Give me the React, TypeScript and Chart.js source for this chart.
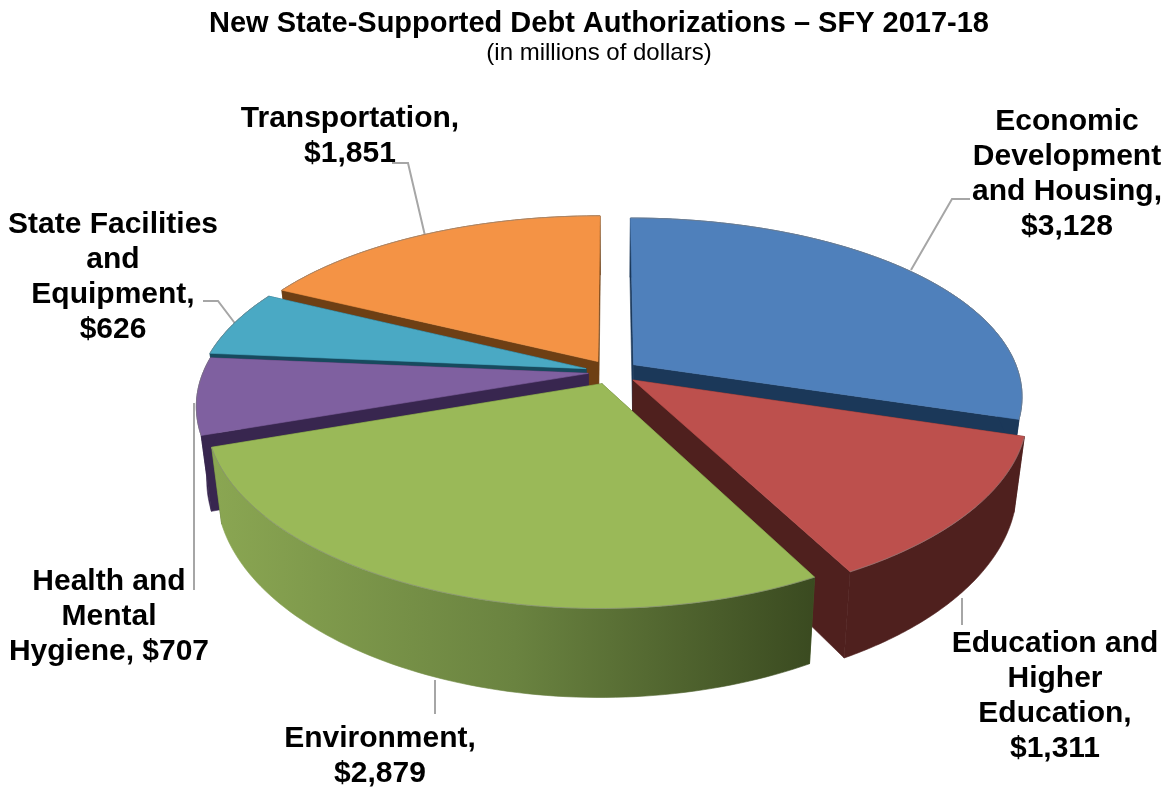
import React, { useEffect, useRef } from "react";
import { Chart, registerables } from "chart.js";

Chart.register(...registerables);

const categories = [
  "Economic Development and Housing",
  "Education and Higher Education",
  "Environment",
  "Health and Mental Hygiene",
  "State Facilities and Equipment",
  "Transportation",
];
const values = [3128, 1311, 2879, 707, 626, 1851];
const topColors = ["#4f80bb", "#bd504d", "#9ab958", "#7f60a0", "#4aa9c4", "#f49345"];
const wallColors = ["#1b3859", "#4f201e", "#4a5f2a", "#38264f", "#174a5e", "#6e3f14"];
const explodes = [0.07, 0.07, 0.07, 0.062, 0.07, 0.07];
const drawOrder = [5, 0, 4, 3, 1, 2];

const titleText = "New State-Supported Debt Authorizations – SFY 2017-18";
const subtitleText = "(in millions of dollars)";

const labelLines = [
  ["Economic", "Development", "and Housing,", "$3,128"],
  ["Education and", "Higher", "Education,", "$1,311"],
  ["Environment,", "$2,879"],
  ["Health and", "Mental", "Hygiene, $707"],
  ["State Facilities", "and", "Equipment,", "$626"],
  ["Transportation,", "$1,851"],
];
const labelAnchors = [
  [1067, 122],
  [1055, 644],
  [380, 739],
  [109, 582],
  [113, 225],
  [350, 119],
];
const leaders = [
  [[911, 270], [952, 199], [970, 199]],
  [[962, 598], [962, 625]],
  [[435, 680], [435, 714]],
  [[194, 590], [194, 403]],
  [[203, 301], [218, 301], [240, 330]],
  [[392, 163], [408, 163], [426, 240]],
];

const FONT = '"Liberation Sans", Arial, sans-serif';
const GEO = { cx: 612, cy: 372, r: 385, k: 0.46, perspY: 0.19, perspX: 0.17, depth: 71, bottomX: 0.975 };

function project(u: number, v: number, low: boolean) {
  const wy = 1 / (1 - GEO.perspY * v);
  const wx = 1 / (1 - GEO.perspX * v);
  const sx = low ? GEO.bottomX : 1;
  return {
    x: GEO.cx + GEO.r * u * wx * sx,
    y: GEO.cy + GEO.r * GEO.k * v * wy + (low ? GEO.depth * wy : 0),
  };
}

const pie3d = {
  id: "pie3d",
  beforeDatasetsDraw(chart: any) {
    const ctx = chart.ctx;
    const arcs = chart.getDatasetMeta(0).data;
    const poly = (pts: { x: number; y: number }[], fill: any) => {
      ctx.beginPath();
      pts.forEach((p, i) => (i ? ctx.lineTo(p.x, p.y) : ctx.moveTo(p.x, p.y)));
      ctx.closePath();
      ctx.fillStyle = fill;
      ctx.fill();
      ctx.strokeStyle = fill;
      ctx.lineWidth = 0.6;
      ctx.stroke();
    };
    ctx.save();
    ctx.strokeStyle = "#a6a6a6";
    ctx.lineWidth = 2;
    leaders.forEach((line) => {
      ctx.beginPath();
      line.forEach((p, i) => (i ? ctx.lineTo(p[0], p[1]) : ctx.moveTo(p[0], p[1])));
      ctx.stroke();
    });
    drawOrder.forEach((i) => {
      const { startAngle, endAngle } = arcs[i];
      const mid = (startAngle + endAngle) / 2;
      const ax = explodes[i] * Math.cos(mid);
      const ay = explodes[i] * Math.sin(mid);
      const steps = 80;
      const rim: [number, number][] = [];
      for (let s = 0; s <= steps; s++) {
        const a = startAngle + ((endAngle - startAngle) * s) / steps;
        rim.push([ax + Math.cos(a), ay + Math.sin(a)]);
      }
      const first = rim[0];
      const last = rim[steps];
      poly([project(ax, ay, false), project(first[0], first[1], false), project(first[0], first[1], true), project(ax, ay, true)], wallColors[i]);
      poly([project(ax, ay, false), project(last[0], last[1], false), project(last[0], last[1], true), project(ax, ay, true)], wallColors[i]);
      let wallFill: any = wallColors[i];
      if (i === 2) {
        const g = ctx.createLinearGradient(215, 0, 815, 0);
        g.addColorStop(0, "#8aa652");
        g.addColorStop(0.5, "#6a8340");
        g.addColorStop(1, "#3a4a20");
        wallFill = g;
      }
      poly(
        [...rim.map((p) => project(p[0], p[1], false)), ...rim.slice().reverse().map((p) => project(p[0], p[1], true))],
        wallFill
      );
      const top = [project(ax, ay, false), ...rim.map((p) => project(p[0], p[1], false))];
      poly(top, topColors[i]);
      ctx.beginPath();
      rim.forEach((p, n) => {
        const q = project(p[0], p[1], false);
        if (n) ctx.lineTo(q.x, q.y);
        else ctx.moveTo(q.x, q.y);
      });
      ctx.strokeStyle = "rgba(130,130,130,0.55)";
      ctx.lineWidth = 1;
      ctx.stroke();
    });
    ctx.restore();
    return false;
  },
  afterDraw(chart: any) {
    const ctx = chart.ctx;
    ctx.save();
    ctx.fillStyle = "#000";
    ctx.font = `bold 30px ${FONT}`;
    ctx.textAlign = "center";
    ctx.textBaseline = "middle";
    labelLines.forEach((lines, i) => {
      lines.forEach((t, n) => ctx.fillText(t, labelAnchors[i][0], labelAnchors[i][1] + n * 35));
    });
    ctx.restore();
  },
};

export default function App() {
  const ref = useRef<HTMLCanvasElement>(null);
  useEffect(() => {
    const chart = new Chart(ref.current as HTMLCanvasElement, {
      type: "pie",
      data: {
        labels: categories,
        datasets: [{ data: values, backgroundColor: topColors, borderWidth: 0 }],
      },
      options: {
        animation: false,
        responsive: false,
        devicePixelRatio: 1,
        layout: { padding: { top: 7, left: 29 } },
        plugins: {
          legend: { display: false },
          tooltip: { enabled: false },
          title: {
            display: true,
            text: titleText,
            color: "#000",
            font: { family: FONT, size: 29, weight: "bold" },
            padding: { top: 0, bottom: 0 },
          },
          subtitle: {
            display: true,
            text: subtitleText,
            color: "#000",
            font: { family: FONT, size: 24, weight: "normal" },
            padding: { top: -3, bottom: 0 },
          },
        },
      },
      plugins: [pie3d],
    } as any);
    return () => chart.destroy();
  }, []);
  return (
    <canvas
      ref={ref}
      width={1169}
      height={789}
      style={{ position: "fixed", left: 0, top: 0, display: "block", background: "#fff" }}
    />
  );
}
